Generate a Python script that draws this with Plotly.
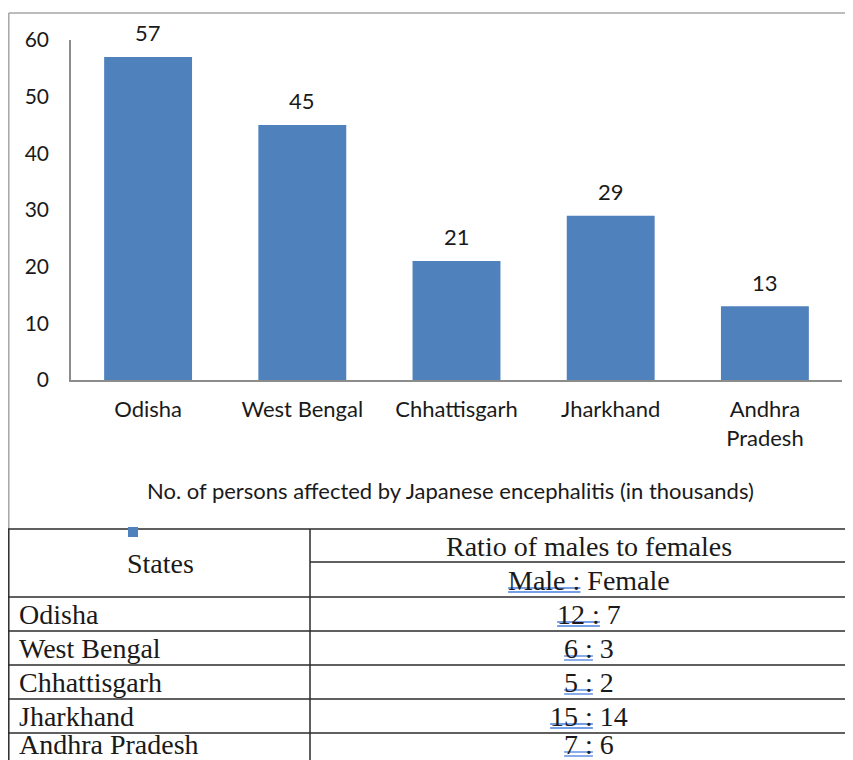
import plotly.graph_objects as go

states = ["Odisha", "West Bengal", "Chhattisgarh", "Jharkhand", "Andhra Pradesh"]
tick_labels = ["Odisha", "West Bengal", "Chhattisgarh", "Jharkhand", "Andhra<br>Pradesh"]
affected = [57, 45, 21, 29, 13]
male = [12, 6, 5, 15, 7]
female = [7, 3, 2, 14, 6]
axis_title = "No. of persons affected by Japanese encephalitis (in thousands)"
table_head = ["States", "Ratio of males to females", "Male", "Female"]

# page body has an 8px margin; map reference-pixel positions into the figure
OFF = 8
W, H = 853 - OFF, 760 - OFF
BAR = "#4f81bd"
SANS = "Lato, 'Open Sans', sans-serif"
SERIF = "'Liberation Serif', 'Times New Roman', serif"
TXT = "#1a1a1a"
SANS_SIZE = 22
SERIF_SIZE = 28

def px(x):
    return (x - OFF) / W

def py(y):
    return 1 - (y - OFF) / H

# Liberation Serif advance widths (em) for the table strings
EM = {"0": .5, "1": .5, "2": .5, "3": .5, "4": .5, "5": .5, "6": .5, "7": .5, "8": .5, "9": .5,
      " ": .25, ":": .278, "M": .889, "a": .444, "l": .278, "e": .444, "F": .556, "m": .778}

def text_w(s):
    return sum(EM.get(c, .5) for c in s) * SERIF_SIZE

fig = go.Figure()
fig.add_trace(go.Bar(x=states, y=affected, marker=dict(color=BAR, line=dict(width=0)),
                     hoverinfo="x+y", showlegend=False))

annotations = []
for s, v in zip(states, affected):
    annotations.append(dict(x=s, y=v, xref="x", yref="y", text=str(v), showarrow=False,
                            yanchor="middle", yshift=24,
                            font=dict(family=SANS, size=SANS_SIZE, color=TXT)))

annotations.append(dict(x=px(450), y=py(490), xref="paper", yref="paper", text=axis_title,
                        showarrow=False, xanchor="center", yanchor="middle",
                        font=dict(family=SANS, size=SANS_SIZE, color=TXT)))

shapes = []
ul_line = dict(color="#4a7fe0", width=1.3)

def underline(center_x, center_y, prefix, full):
    x0 = center_x - text_w(full) / 2
    x1 = x0 + text_w(prefix)
    for dy in (8, 12):
        shapes.append(dict(type="line", xref="paper", yref="paper", x0=px(x0), x1=px(x1),
                           y0=py(center_y + dy), y1=py(center_y + dy), line=ul_line))

# Table
col_div = 310
right_center = 589
row_lines = [597, 631, 665, 699, 733]
row_centers = [614, 648, 682, 716, 744]
sf = dict(family=SERIF, size=SERIF_SIZE, color=TXT)

annotations.append(dict(x=px(160), y=py(563), xref="paper", yref="paper", text=table_head[0],
                        showarrow=False, xanchor="center", yanchor="middle", font=sf))
annotations.append(dict(x=px(right_center), y=py(546), xref="paper", yref="paper",
                        text=table_head[1], showarrow=False,
                        xanchor="center", yanchor="middle", font=sf))
mf = f"{table_head[2]} : {table_head[3]}"
annotations.append(dict(x=px(right_center), y=py(580), xref="paper", yref="paper",
                        text=mf, showarrow=False, xanchor="center", yanchor="middle", font=sf))
underline(right_center, 580, f"{table_head[2]} :", mf)
for s, m, f, yc in zip(states, male, female, row_centers):
    annotations.append(dict(x=px(17), y=py(yc), xref="paper", yref="paper", text=s,
                            showarrow=False, xanchor="left", yanchor="middle", font=sf))
    ratio = f"{m} : {f}"
    annotations.append(dict(x=px(right_center), y=py(yc), xref="paper", yref="paper",
                            text=ratio, showarrow=False, xanchor="center", yanchor="middle",
                            font=sf))
    underline(right_center, yc, f"{m} :", ratio)

frame = dict(color="#a6a6a6", width=1.5)
shapes.append(dict(type="line", xref="paper", yref="paper", x0=px(8.8), x1=1, y0=py(13), y1=py(13), line=frame))
shapes.append(dict(type="line", xref="paper", yref="paper", x0=px(8.8), x1=px(8.8), y0=py(13), y1=py(529), line=frame))

tl = dict(color="#2b2b2b", width=1.5)
shapes.append(dict(type="line", xref="paper", yref="paper", x0=px(8), x1=1, y0=py(529), y1=py(529), line=tl))
shapes.append(dict(type="line", xref="paper", yref="paper", x0=px(col_div), x1=1, y0=py(562), y1=py(562), line=tl))
for yl in row_lines:
    shapes.append(dict(type="line", xref="paper", yref="paper", x0=px(8), x1=1, y0=py(yl), y1=py(yl), line=tl))
shapes.append(dict(type="line", xref="paper", yref="paper", x0=px(8.8), x1=px(8.8), y0=py(529), y1=0, line=tl))
shapes.append(dict(type="line", xref="paper", yref="paper", x0=px(col_div), x1=px(col_div), y0=py(529), y1=0, line=tl))
# legend key remnant
shapes.append(dict(type="rect", xref="paper", yref="paper", x0=px(128), x1=px(138), y0=py(537), y1=py(527),
                   fillcolor=BAR, line=dict(width=0)))

fig.update_layout(
    width=W, height=H,
    margin=dict(l=0, r=0, t=0, b=0, autoexpand=False),
    paper_bgcolor="white", plot_bgcolor="white",
    bargap=0.43,
    showlegend=False,
    xaxis=dict(domain=[px(71), px(842)], showline=True, linecolor="#8c8c8c", linewidth=1.5,
               showgrid=False, zeroline=False, ticks="", tickmode="array", automargin=False,
               tickvals=states, ticktext=tick_labels, ticklabelstandoff=9,
               tickfont=dict(family=SANS, size=SANS_SIZE, color=TXT), anchor="y"),
    yaxis=dict(domain=[py(380), py(40)], range=[0, 60], dtick=10, showline=True, automargin=False,
               linecolor="#8c8c8c", linewidth=1.5, showgrid=False, zeroline=False,
               ticks="", ticklabelstandoff=16,
               tickfont=dict(family=SANS, size=21, color=TXT)),
    annotations=annotations,
    shapes=shapes,
)

fig.write_html("out.html")
